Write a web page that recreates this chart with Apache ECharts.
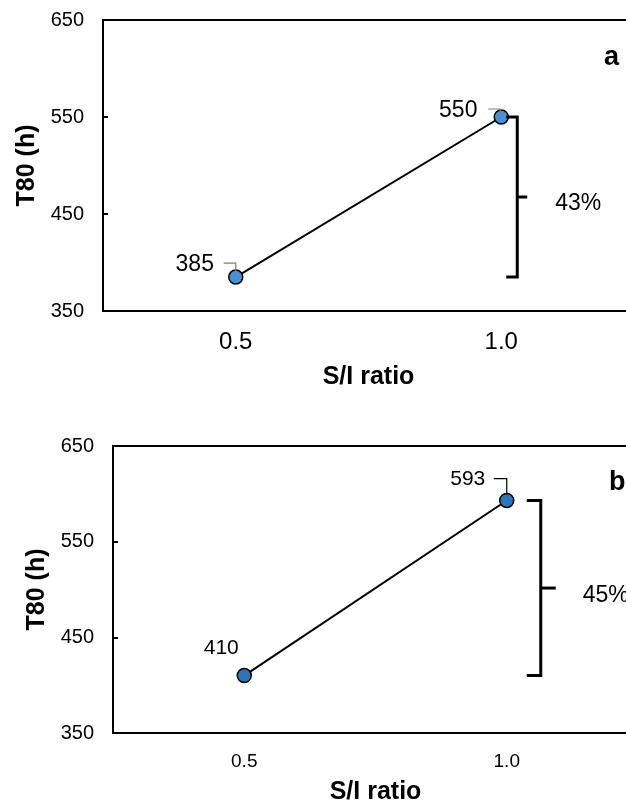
<!DOCTYPE html>
<html>
<head>
<meta charset="utf-8">
<script src="https://cdn.jsdelivr.net/npm/echarts@6/dist/echarts.min.js"></script>
<style>
  html, body { margin: 0; padding: 0; background: #fff; }
  #chart { width: 626px; height: 805px; }
</style>
</head>
<body>
<div id="chart"></div>
<script>
// data
var ratios = ['0.5', '1.0'];
var t80A = [385, 550];
var t80B = [410, 593];
var yTicks = [350, 450, 550, 650];
var panelNames = ['a', 'b'];
var gainLabels = ['43%', '45%'];

var FONT = '"Liberation Sans", Arial, sans-serif';

var chart = echarts.init(document.getElementById('chart'));

function makeX(grid, fontSize, nameGap) {
  return {
    type: 'category', gridIndex: grid, data: ratios, boundaryGap: true,
    name: 'S/I ratio', nameLocation: 'middle', nameGap: nameGap,
    nameTextStyle: { fontFamily: FONT, fontSize: 25, fontWeight: 'bold', color: '#000' },
    axisLine: { lineStyle: { color: '#000', width: 2 } },
    axisTick: { show: false },
    axisLabel: { fontFamily: FONT, fontSize: fontSize, color: '#000', margin: 19 },
    splitLine: { show: false }
  };
}

function makeY(grid) {
  return {
    type: 'value', gridIndex: grid,
    min: yTicks[0], max: yTicks[yTicks.length - 1], interval: yTicks[1] - yTicks[0],
    name: 'T80 (h)', nameLocation: 'middle', nameGap: 60,
    nameTextStyle: { fontFamily: FONT, fontSize: 25, fontWeight: 'bold', color: '#000' },
    axisLine: { show: true, lineStyle: { color: '#000', width: 2 } },
    axisTick: { show: true, inside: true, length: 5, lineStyle: { color: '#000', width: 2 } },
    axisLabel: { fontFamily: FONT, fontSize: 20, color: '#000', margin: 19 },
    splitLine: { show: false }
  };
}

function pointSeries(grid, vals, fill, labelSize, offsets) {
  return {
    type: 'line', xAxisIndex: grid, yAxisIndex: grid,
    data: vals.map(function (v, i) {
      return { value: v, label: { offset: offsets[i] } };
    }),
    symbol: 'circle', symbolSize: 14,
    itemStyle: { color: fill, borderColor: '#000', borderWidth: 1.5 },
    lineStyle: { color: '#000', width: 2 },
    label: {
      show: true, position: 'inside', color: '#000',
      fontFamily: FONT, fontSize: labelSize
    },
    emphasis: { disabled: true },
    z: 3
  };
}

// leader lines from label to point: [dxStart, dy, dxEnd, dyEnd]
function leaderSeries(grid, vals, leaders, color) {
  var data = [];
  leaders.forEach(function (l, i) { if (l) data.push([i, vals[i], i]); });
  return {
    type: 'custom', xAxisIndex: grid, yAxisIndex: grid, silent: true, z: 6,
    data: data,
    renderItem: function (params, api) {
      var p = api.coord([api.value(0), api.value(1)]);
      var l = leaders[api.value(2)];
      return {
        type: 'polyline',
        shape: { points: [[p[0] + l[0], p[1] + l[1]], [p[0] + l[2], p[1] + l[1]], [p[0] + l[2], p[1] + l[3]]] },
        style: { stroke: color, lineWidth: 1.2, fill: 'none' }
      };
    }
  };
}

function bracketSeries(grid, vals, o) {
  return {
    type: 'custom', xAxisIndex: grid, yAxisIndex: grid, silent: true, z: 5,
    data: [[1, Math.min.apply(null, vals), Math.max.apply(null, vals)]],
    renderItem: function (params, api) {
      var hi = api.coord([api.value(0), api.value(2)]);
      var lo = api.coord([api.value(0), api.value(1)]);
      var x = hi[0] + o.dx;
      var midY = (hi[1] + lo[1]) / 2;
      return {
        type: 'group',
        children: [
          { type: 'polyline',
            shape: { points: [[x - o.hook, hi[1]], [x, hi[1]], [x, lo[1]], [x - o.hook, lo[1]]] },
            style: { stroke: '#000', lineWidth: 3, fill: 'none' } },
          { type: 'line',
            shape: { x1: x, y1: midY, x2: x + o.nub, y2: midY },
            style: { stroke: '#000', lineWidth: 3 } },
          { type: 'text', x: x + o.textDx, y: midY + o.textDy,
            style: { text: o.text, fill: '#000', fontFamily: FONT, fontSize: 23,
                     align: 'left', verticalAlign: 'middle' } }
        ]
      };
    }
  };
}

var option = {
  backgroundColor: '#fff',
  animation: false,
  title: [
    { text: panelNames[0], left: 604, top: 44, padding: 0,
      textStyle: { fontFamily: FONT, fontSize: 27, fontWeight: 'bold', color: '#000' } },
    { text: panelNames[1], left: 609, top: 469, padding: 0,
      textStyle: { fontFamily: FONT, fontSize: 27, fontWeight: 'bold', color: '#000' } }
  ],
  grid: [
    { left: 103, top: 20, width: 531, height: 291, show: true, borderColor: '#000', borderWidth: 2,
      outerBoundsMode: 'none', containLabel: false },
    { left: 113, top: 446, width: 525, height: 287, show: true, borderColor: '#000', borderWidth: 2,
      outerBoundsMode: 'none', containLabel: false }
  ],
  xAxis: [makeX(0, 24, 54), makeX(1, 19, 47)],
  yAxis: [makeY(0), makeY(1)],
  series: [
    pointSeries(0, t80A, '#4A8FD4', 23, [[-41, -12], [-43, -6]]),
    pointSeries(1, t80B, '#2E75B6', 21, [[-23, -27], [-39, -21]]),
    leaderSeries(0, t80A, [[-12, -14, 0, -4], [-13, -8, -1, -3]], '#7f7f7f'),
    leaderSeries(1, t80B, [null, [-13, -22, 0, -6]], '#000'),
    bracketSeries(0, t80A, { dx: 16, hook: 11, nub: 10, textDx: 38, textDy: 7, text: gainLabels[0] }),
    bracketSeries(1, t80B, { dx: 34, hook: 14, nub: 15, textDx: 42, textDy: 8, text: gainLabels[1] })
  ]
};

chart.setOption(option);
</script>
</body>
</html>
